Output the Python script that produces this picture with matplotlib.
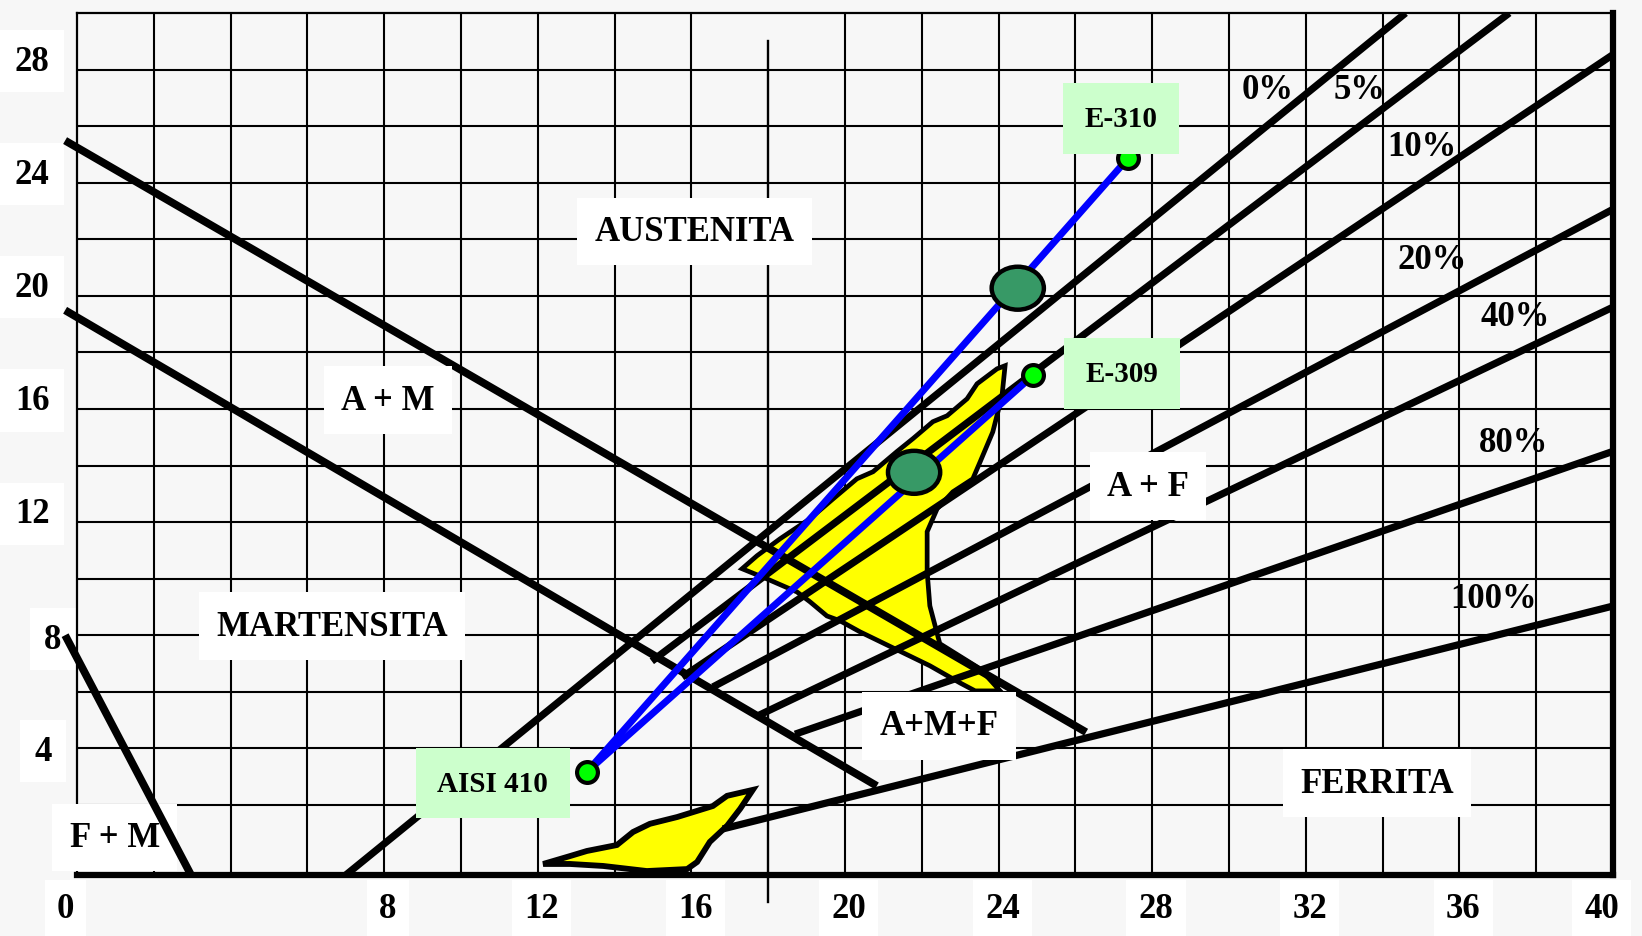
import matplotlib
matplotlib.use('Agg')
import matplotlib.pyplot as plt
from matplotlib.patches import Polygon, Ellipse

plt.rcParams['font.family'] = ['Liberation Serif', 'DejaVu Serif']
plt.rcParams['font.weight'] = 'bold'

# --- data (Cr equivalent on x, Ni equivalent on y) ---
mart_upper_x = [-0.31, 26.28]
mart_upper_y = [25.49, 4.57]
mart_lower_x = [-0.31, 20.83]
mart_lower_y = [19.49, 2.67]
fm_x = [-0.31, 2.97]
fm_y = [8.0, -0.48]

ferrite_pct = ['0%', '5%', '10%', '20%', '40%', '80%', '100%']
ferrite_x0 = [7.0, 14.97, 15.76, 16.56, 17.73, 18.7, 16.82]
ferrite_y0 = [-0.48, 7.08, 6.52, 6.17, 5.15, 4.5, 1.15]
ferrite_x1 = [34.6, 37.3, 40.0, 40.0, 40.0, 40.0, 40.0]
ferrite_y1 = [30.0, 30.0, 28.53, 23.06, 19.6, 14.5, 9.03]

materials = ['AISI 410', 'E-310', 'E-309']
mat_x = [13.28, 27.37, 24.9]
mat_y = [3.17, 24.86, 17.19]

mix_x = [24.5, 21.8]
mix_y = [20.27, 13.76]

blob_hi_x = [24.17, 24.09, 23.85, 23.52, 23.33, 22.81, 22.40, 22.14, 22.14, 22.21,
             22.47, 23.52, 24.04, 23.39, 23.0, 22.21, 21.30, 20.39, 19.87, 19.53,
             19.09, 18.75, 17.97, 17.32, 17.71, 18.31, 19.09, 19.69, 20.31, 20.73,
             21.35, 21.77, 22.29, 22.66, 23.18, 23.44, 23.96]
blob_hi_y = [17.53, 16.47, 15.19, 14.13, 13.53, 13.07, 12.47, 11.66, 10.24, 9.04,
             7.70, 6.81, 6.03, 6.03, 6.31, 6.92, 7.52, 8.12, 8.51, 8.68,
             9.18, 9.53, 9.99, 10.35, 10.81, 11.41, 12.12, 12.82, 13.53, 13.78,
             14.49, 14.95, 15.55, 15.76, 16.36, 16.89, 17.42]
blob_lo_x = [12.14, 12.84, 13.28, 14.06, 14.48, 14.92, 15.63, 16.56, 16.93, 17.60,
             17.27, 16.93, 16.48, 16.15, 15.89, 14.84, 13.70, 12.84]
blob_lo_y = [-0.09, 0.19, 0.37, 0.58, 1.04, 1.33, 1.57, 1.96, 2.32, 2.53,
             1.86, 1.26, 0.69, -0.02, -0.27, -0.34, -0.16, -0.09]

regions = ['AUSTENITA', 'A + M', 'MARTENSITA', 'F + M', 'A + F', 'A+M+F', 'FERRITA']

xtick_vals = [0, 8, 12, 16, 20, 24, 28, 32, 36, 40]
ytick_vals = [28, 24, 20, 16, 12, 8, 4]

# --- layout ---
region_pos = [(16.09, 22.28), (8.10, 16.31), (6.64, 8.32), (0.98, 0.85),
              (27.89, 13.27), (22.45, 4.79), (33.85, 2.77)]
pct_pos = [(31.02, 27.3), (33.41, 27.3), (35.03, 25.28), (35.29, 21.29),
           (37.45, 19.28), (37.40, 14.82), (36.88, 9.28)]
mat_label_pos = [(10.83, 2.77), (27.19, 26.27), (27.21, 17.26)]

bg = '#f7f7f7'
fig = plt.figure(figsize=(16.42, 9.37), dpi=100, facecolor=bg)
ax = fig.add_axes([0.0469, 0.0651, 0.9354, 0.9199])
ax.set_facecolor(bg)
ax.set_xlim(0, 40)
ax.set_ylim(-0.48, 30)
ax.set_xticks([])
ax.set_yticks([])
for s in ['left', 'top']:
    ax.spines[s].set_linewidth(1.6)
for s in ['right', 'bottom']:
    ax.spines[s].set_linewidth(4.5)

# grid
for xv in range(2, 40, 2):
    if xv != 18:
        ax.axvline(xv, color='k', lw=1.5, zorder=1)
for yv in range(2, 30, 2):
    ax.axhline(yv, color='k', lw=1.5, zorder=1)
ax.plot([18, 18], [29.0, -1.43], color='k', lw=1.7, clip_on=False, zorder=1)

# yellow zones
ax.add_patch(Polygon(list(zip(blob_hi_x, blob_hi_y)), closed=True,
                     fc='#ffff00', ec='k', lw=3.4, zorder=2))
ax.add_patch(Polygon(list(zip(blob_lo_x, blob_lo_y)), closed=True,
                     fc='#ffff00', ec='k', lw=4.2, zorder=2))

# boundaries
lw_b = 5.6
ax.plot(mart_upper_x, mart_upper_y, color='k', lw=lw_b, clip_on=False, zorder=3,
        solid_capstyle='butt')
ax.plot(mart_lower_x, mart_lower_y, color='k', lw=lw_b, clip_on=False, zorder=3,
        solid_capstyle='butt')
ax.plot(fm_x, fm_y, color='k', lw=lw_b, clip_on=False, zorder=3.5,
        solid_capstyle='butt')
for i in range(len(ferrite_pct)):
    ax.plot([ferrite_x0[i], ferrite_x1[i]], [ferrite_y0[i], ferrite_y1[i]],
            color='k', lw=5.2, zorder=3, solid_capstyle='butt')
    ax.text(pct_pos[i][0], pct_pos[i][1], ferrite_pct[i], fontsize=25,
            ha='center', va='center', zorder=7)

# dilution lines
for j in (1, 2):
    ax.plot([mat_x[0], mat_x[j]], [mat_y[0], mat_y[j]], color='#0000ff', lw=5.0,
            zorder=4, solid_capstyle='butt')
for cx, cy in zip(mix_x, mix_y):
    ax.add_patch(Ellipse((cx, cy), 1.36, 1.52, fc='#379966', ec='k', lw=3.2, zorder=5))
ax.plot(mat_x, mat_y, 'o', ms=15, mfc='#00ff00', mec='k', mew=3.0, zorder=6)

# labels
for name, (tx, ty) in zip(regions, region_pos):
    z = 3.2 if name == 'F + M' else 7
    ax.text(tx, ty, name, fontsize=25, ha='center', va='center', zorder=z,
            bbox=dict(boxstyle='square,pad=0.5', fc='white', ec='none'))
for name, (tx, ty) in zip(materials, mat_label_pos):
    ax.text(tx, ty, name, fontsize=21, ha='center', va='center', zorder=7,
            bbox=dict(boxstyle='square,pad=0.75', fc='#ccffcc', ec='none'))

# tick labels
xoff = {0: -0.3, 40: 39.7}
for v in xtick_vals:
    ax.text(xoff.get(v, v + 0.1), -1.68, str(v), fontsize=25, ha='center',
            va='center', clip_on=False, zorder=0.5,
            bbox=dict(boxstyle='square,pad=0.35', fc='white', ec='none'))
ypos = {8: (-0.63, 7.86), 4: (-0.89, 3.9)}
for v in ytick_vals:
    tx, ty = ypos.get(v, (-1.17, v + 0.3))
    ax.text(tx, ty, str(v), fontsize=25, ha='center', va='center',
            clip_on=False, zorder=0.5,
            bbox=dict(boxstyle='square,pad=0.42', fc='white', ec='none'))

fig.savefig('out.png', dpi=100, facecolor=bg)
